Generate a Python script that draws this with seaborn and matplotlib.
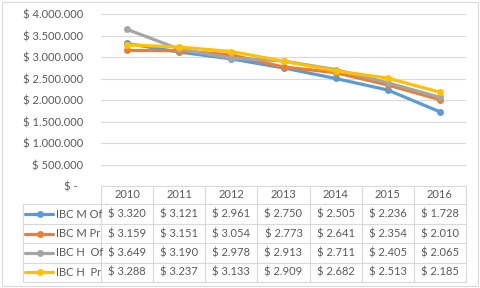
"""IBC M / IBC H series 2010-2016, Excel-style line chart with a data table."""

import matplotlib

matplotlib.use("Agg")
import matplotlib.pyplot as plt
import pandas as pd
import seaborn as sns
from matplotlib.lines import Line2D
from matplotlib.ticker import FuncFormatter

YEARS = [2010, 2011, 2012, 2013, 2014, 2015, 2016]
SERIES = ["IBC M Of", "IBC M Pr", "IBC H  Of", "IBC H  Pr"]
IBC_M_OF = [3320, 3121, 2961, 2750, 2505, 2236, 1728]
IBC_M_PR = [3159, 3151, 3054, 2773, 2641, 2354, 2010]
IBC_H_OF = [3649, 3190, 2978, 2913, 2711, 2405, 2065]
IBC_H_PR = [3288, 3237, 3133, 2909, 2682, 2513, 2185]
COLORS = ["#5B9BD5", "#ED7D31", "#A5A5A5", "#FFC000"]
TEXT = "#595959"
GRID = "#D9D9D9"
FS = 8

W, H = 480, 288


def px_x(x):
    return x / W


def px_y(y):
    return 1 - y / H


def money(v, _pos=None):
    if v == 0:
        return "$ -  "
    return "$ " + f"{v:,.0f}".replace(",", ".")


def main() -> None:
    values = [IBC_M_OF, IBC_M_PR, IBC_H_OF, IBC_H_PR]
    df = pd.DataFrame(
        [
            {"year": y, "serie": s, "valor": v * 1000}
            for s, vals in zip(SERIES, values)
            for y, v in zip(YEARS, vals)
        ]
    )

    sns.set_style("white")
    plt.rcParams["font.family"] = ["Lato", "DejaVu Sans"]

    fig = plt.figure(figsize=(4.8, 2.88), dpi=100)
    left, right, top, bottom = 101, 466, 14.3, 186
    ax = fig.add_axes([px_x(left), px_y(bottom), (right - left) / W, (bottom - top) / H])

    sns.lineplot(
        data=df, x="year", y="valor", hue="serie", palette=COLORS,
        marker="o", markersize=5, markeredgewidth=0, linewidth=2.3,
        legend=False, ax=ax,
    )
    ax.set_xlim(YEARS[0] - 0.5, YEARS[-1] + 0.5)
    ax.set_ylim(0, 4_000_000)
    ax.set_yticks(range(0, 4_000_001, 500_000))
    ax.yaxis.set_major_formatter(FuncFormatter(money))
    ax.set_xticks([])
    ax.set_xlabel("")
    ax.set_ylabel("")
    ax.grid(axis="y", color=GRID, linewidth=0.8)
    ax.tick_params(axis="y", length=0, pad=13, labelsize=FS, labelcolor=TEXT)
    for side in ["left", "right", "top", "bottom"]:
        ax.spines[side].set_visible(False)

    # data table under the plot
    col_w = (right - left) / len(YEARS)
    rows = [186, 204, 224, 243.3, 262.7, 281.7]
    lab_left = 22.7

    def hline(y, x0, x1):
        fig.add_artist(Line2D([px_x(x0), px_x(x1)], [px_y(y), px_y(y)], color=GRID, linewidth=0.8))

    def vline(x, y0, y1):
        fig.add_artist(Line2D([px_x(x), px_x(x)], [px_y(y0), px_y(y1)], color=GRID, linewidth=0.8))

    hline(rows[0], left, right)
    for y in rows[1:]:
        hline(y, lab_left, right)
    vline(lab_left, rows[1], rows[-1])
    for i in range(len(YEARS) + 1):
        vline(left + i * col_w, rows[0], rows[-1])

    for i, year in enumerate(YEARS):
        fig.text(px_x(left + (i + 0.5) * col_w), px_y((rows[0] + rows[1]) / 2), str(year),
                 ha="center", va="center", fontsize=FS, color=TEXT)

    for r, (name, vals, color) in enumerate(zip(SERIES, values, COLORS)):
        yc = (rows[r + 1] + rows[r + 2]) / 2
        fig.add_artist(Line2D([px_x(25), px_x(53)], [px_y(yc), px_y(yc)], color=color, linewidth=2.3))
        fig.add_artist(Line2D([px_x(39.5)], [px_y(yc)], color=color, marker="o",
                              markersize=5, markeredgewidth=0))
        fig.text(px_x(56), px_y(yc), name, ha="left", va="center", fontsize=FS, color=TEXT)
        for i, v in enumerate(vals):
            fig.text(px_x(left + (i + 0.5) * col_w), px_y(yc), "$ " + f"{v:,}".replace(",", "."),
                     ha="center", va="center", fontsize=FS, color=TEXT)

    # chart frame
    fig.add_artist(plt.Rectangle((px_x(1.5), px_y(285.5)), (W - 3.5) / W, (284) / H,
                                 fill=False, edgecolor=GRID, linewidth=0.8))

    fig.savefig("out.png", dpi=100)
    plt.close(fig)


if __name__ == "__main__":
    main()
